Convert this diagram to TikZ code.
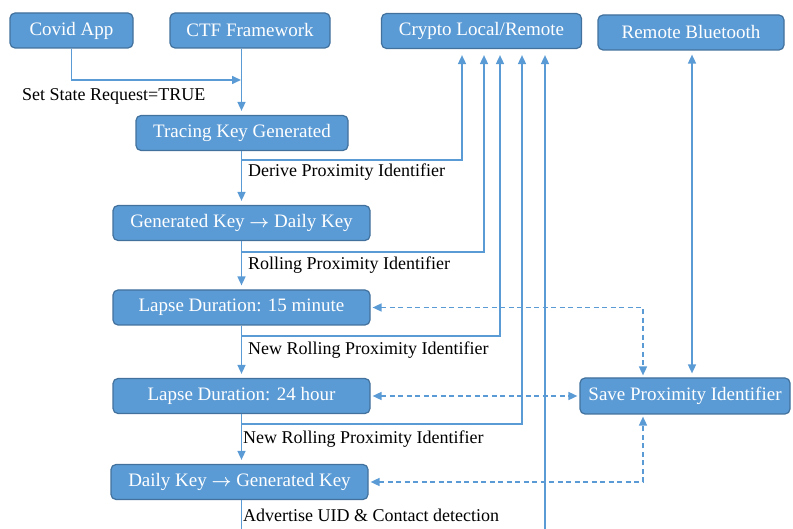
\documentclass[tikz,border=0pt]{standalone}
\usepackage{fontspec}
\setmainfont{Liberation Serif}
\usetikzlibrary{arrows.meta}
\usepackage{amsmath,amssymb}
\definecolor{boxfill}{HTML}{5B9BD5}
\definecolor{boxline}{HTML}{41719C}
\definecolor{wire}{HTML}{5B9BD5}
\newcommand{\keyarrow}{ $\boldsymbol{\rightarrow}$ }
\begin{document}
\begin{tikzpicture}[x=1pt,y=-1pt,
  box/.style={draw=boxline, line width=1.2pt, fill=boxfill, rounded corners=5pt,
    text=white, font=\fontsize{19}{22}\selectfont, inner sep=0pt, minimum height=35pt},
  lbl/.style={anchor=west, font=\fontsize{18}{21}\selectfont, inner sep=0pt},
  wireline/.style={draw=wire, line width=1.6pt},
  flow/.style={wireline, -{Triangle[length=9pt,width=8pt]}, shorten >=4pt},
  biflow/.style={wireline, {Triangle[length=9pt,width=8pt]}-{Triangle[length=9pt,width=8pt]}, shorten >=4pt, shorten <=4pt},
  dflow/.style={wireline, dash pattern=on 5pt off 3.5pt, {Triangle[length=9pt,width=8pt]}-{Triangle[length=9pt,width=8pt]}, shorten >=2pt, shorten <=2pt}
]
\useasboundingbox (0,0) rectangle (793,529);

% boxes
\node[box, minimum width=123pt] (covid) at (71.5,30.5) {Covid App};
\node[box, minimum width=160pt] (ctf) at (250,30.5) {CTF Framework};
\node[box, minimum width=200pt] (crypto) at (481.5,31) {Crypto Local/Remote};
\node[box, minimum width=186pt] (bt) at (691,32.5) {Remote Bluetooth};
\node[box, minimum width=212pt] (tracing) at (242,133) {Tracing Key Generated};
\node[box, minimum width=257pt] (gen) at (241.5,223) {Generated Key\keyarrow Daily Key};
\node[box, minimum width=257pt] (lapse15) at (241.5,307.5) {Lapse Duration: 15 minute};
\node[box, minimum width=257pt] (lapse24) at (241.5,396) {Lapse Duration: 24 hour};
\node[box, minimum width=257pt] (daily) at (239.5,482) {Daily Key\keyarrow Generated Key};
\node[box, minimum width=210pt, minimum height=36pt] (save) at (685,396) {Save Proximity Identifier};

% helper coordinates
\coordinate (col) at (241.5,0);
\coordinate (j1) at (242,80);
\coordinate (b1) at (241.5,160);
\coordinate (b2) at (241.5,252);
\coordinate (b3) at (241.5,336);
\coordinate (b4) at (241.5,424);
\coordinate (bot1) at (241.5,529);
\coordinate (bot2) at (545,529);
\coordinate (btx) at (692,0);
\coordinate (dx) at (643,0);

% top flow
\draw[flow, shorten >=1pt] (covid.south) |- (j1);
\draw[flow] (ctf.south -| col) -- (tracing.north -| col);
\node[lbl] (l0) at (22,96) {Set State Request=TRUE};

% main column
\draw[flow] (tracing.south -| col) -- (gen.north -| col);
\draw[flow] (gen.south -| col) -- (lapse15.north -| col);
\draw[flow] (lapse15.south -| col) -- (lapse24.north -| col);
\draw[flow] (lapse24.south -| col) -- (daily.north -| col);
\draw[wireline] (daily.south -| col) -- (bot1);

% branches to crypto
\draw[flow, shorten >=6pt] (b1) -| ([xshift=-19.5pt]crypto.south);
\draw[flow, shorten >=6pt] (b2) -| ([xshift=2.5pt]crypto.south);
\draw[flow, shorten >=6pt] (b3) -| ([xshift=18.5pt]crypto.south);
\draw[flow, shorten >=6pt] (b4) -| ([xshift=40.5pt]crypto.south);
\draw[flow, shorten >=6pt] (bot2) -- ([xshift=63.5pt]crypto.south);

% labels
\node[lbl] (l1) at (248,172) {Derive Proximity Identifier};
\node[lbl] (l2) at (248,265) {Rolling Proximity Identifier};
\node[lbl] (l3) at (248,350) {New Rolling Proximity Identifier};
\node[lbl] (l4) at (243,439) {New Rolling Proximity Identifier};
\node[lbl] (l5) at (243,515) {Advertise UID \& Contact detection};

% bluetooth
\draw[biflow] (bt.south -| btx) -- (save.north -| btx);

% dashed links
\draw[dflow] (lapse15.east) -| (save.north -| dx);
\draw[dflow] (lapse24.east) -- (save.west);
\draw[dflow] (daily.east) -| (save.south -| dx);
\end{tikzpicture}
\end{document}
